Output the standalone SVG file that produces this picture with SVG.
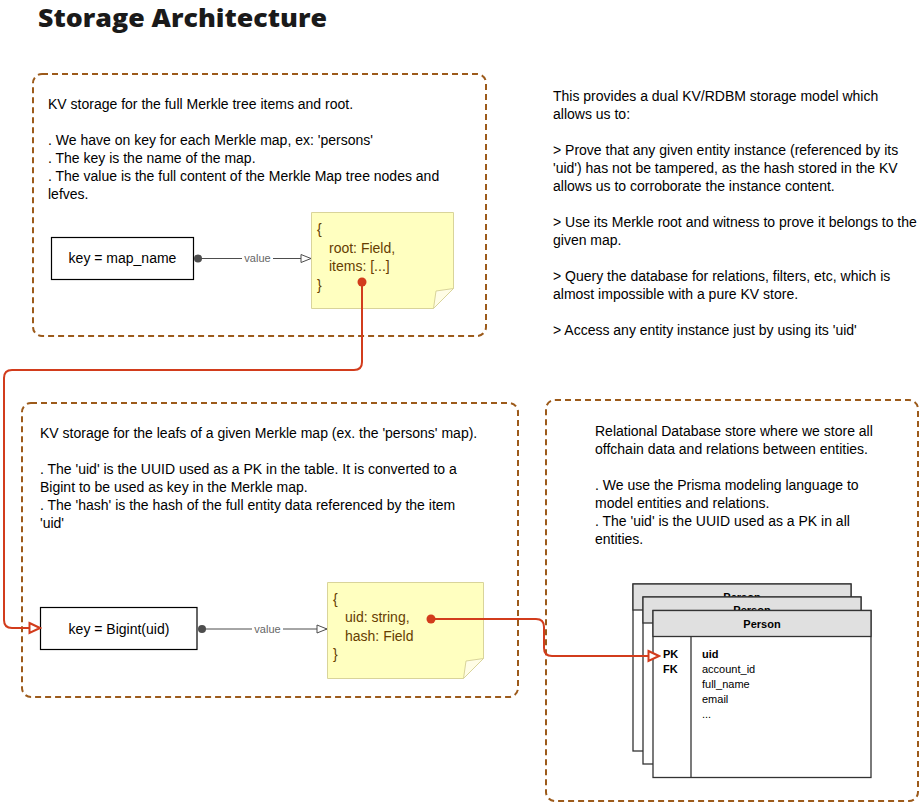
<svg xmlns="http://www.w3.org/2000/svg" width="919" height="803" viewBox="0 0 919 803">
<style>
.t{font-family:"Liberation Sans",Arial,sans-serif;font-size:14px;fill:#000}
.n{font-family:"Liberation Sans",Arial,sans-serif;font-size:14px;fill:#663d00}
.lbl{font-family:"Liberation Sans",Arial,sans-serif;font-size:11px;fill:#666}
.s{font-family:"Liberation Sans",Arial,sans-serif;font-size:11px;fill:#000}
.b{font-weight:bold}
.grp{fill:none;stroke:#9c5a1a;stroke-width:2;stroke-dasharray:6 4}
.key{fill:#fff;stroke:#000;stroke-width:1.2}
.note{fill:#ffffc0;stroke:#d9d49a;stroke-width:1}
.fold{fill:#fffde6;stroke:#d9d49a;stroke-width:1}
.tbl{fill:#fff;stroke:#333;stroke-width:1.3}
.hdr{fill:#e0e0e0;stroke:#333;stroke-width:1.3}
.gl{fill:none;stroke:#4d4d4d;stroke-width:1}
.rl{fill:none;stroke:#d23c1c;stroke-width:2}
</style>
<defs>
<marker id="ga" markerUnits="userSpaceOnUse" markerWidth="12" markerHeight="10" refX="11" refY="5" orient="auto">
<path d="M1,1 L11,5 L1,9 Z" fill="#fff" stroke="#4d4d4d" stroke-width="1"/>
</marker>
<marker id="ra" markerUnits="userSpaceOnUse" markerWidth="14" markerHeight="14" refX="12" refY="7" orient="auto">
<path d="M1.5,2 L12,7 L1.5,12 Z" fill="#fff" stroke="#d23c1c" stroke-width="2"/>
</marker>
</defs>
<rect width="919" height="803" fill="#fff"/>
<text x="38" y="27" font-family="'Open Sans',sans-serif" font-weight="800" font-size="24" fill="#1a1a1a" textLength="289" lengthAdjust="spacingAndGlyphs">Storage Architecture</text>

<g id="group-merkle">
<rect class="grp" x="33" y="74" width="453" height="262" rx="9"/>
<text class="t" x="48" y="109">KV storage for the full Merkle tree items and root.</text>
<text class="t" x="48" y="145">. We have on key for each Merkle map, ex: 'persons'</text>
<text class="t" x="48" y="163">. The key is the name of the map.</text>
<text class="t" x="48" y="181">. The value is the full content of the Merkle Map tree nodes and</text>
<text class="t" x="48" y="199">lefves.</text>
</g>

<g id="key-map-name">
<rect class="key" x="51.5" y="237.5" width="142" height="42"/>
<text class="t" x="122.5" y="263" text-anchor="middle">key = map_name</text>
</g>

<g id="note-merkle">
<path class="note" d="M311.5,212.5 H453.5 V288.5 L433.5,308.5 H311.5 Z"/>
<path class="fold" d="M453.5,288.5 L433.5,308.5 L436,291 Z"/>
<text class="n" x="317" y="234">{</text>
<text class="n" x="329" y="252.5">root: Field,</text>
<text class="n" x="329" y="271">items: [...]</text>
<text class="n" x="317" y="289.5">}</text>
</g>

<g id="group-leafs">
<rect class="grp" x="22" y="403" width="496" height="294" rx="9"/>
<text class="t" x="40" y="438">KV storage for the leafs of a given Merkle map (ex. the 'persons' map).</text>
<text class="t" x="40" y="474">. The 'uid' is the UUID used as a PK in the table. It is converted to a</text>
<text class="t" x="40" y="492">Bigint to be used as key in the Merkle map.</text>
<text class="t" x="40" y="510">. The 'hash' is the hash of the full entity data referenced by the item</text>
<text class="t" x="40" y="528">'uid'</text>
</g>

<g id="key-bigint">
<rect class="key" x="40.5" y="607.5" width="156.5" height="42"/>
<text class="t" x="119" y="633.5" text-anchor="middle">key = Bigint(uid)</text>
</g>

<g id="note-leaf">
<path class="note" d="M327.5,582.5 H483.5 V658.5 L463.5,678.5 H327.5 Z"/>
<path class="fold" d="M483.5,658.5 L463.5,678.5 L466,661 Z"/>
<text class="n" x="333" y="604">{</text>
<text class="n" x="345" y="622">uid: string,</text>
<text class="n" x="345" y="640.5">hash: Field</text>
<text class="n" x="333" y="659">}</text>
</g>

<g id="group-rdbms">
<rect class="grp" x="546" y="400" width="372" height="401" rx="9"/>
<text class="t" x="595" y="436">Relational Database store where we store all</text>
<text class="t" x="595" y="454">offchain data and relations between entities.</text>
<text class="t" x="595" y="490">. We use the Prisma modeling language to</text>
<text class="t" x="595" y="508">model entities and relations.</text>
<text class="t" x="595" y="526">. The 'uid' is the UUID used as a PK in all</text>
<text class="t" x="595" y="544">entities.</text>
</g>

<g id="table-person-back">
<rect class="tbl" x="633" y="584" width="218" height="167"/>
<rect class="hdr" x="633" y="584" width="218" height="26"/>
<text class="s b" x="742" y="601" text-anchor="middle">Person</text>
</g>
<g id="table-person-middle">
<rect class="tbl" x="643" y="597" width="218" height="167"/>
<rect class="hdr" x="643" y="597" width="218" height="26"/>
<text class="s b" x="752" y="614" text-anchor="middle">Person</text>
</g>
<g id="table-person">
<rect class="tbl" x="653" y="610.5" width="218" height="167"/>
<rect class="hdr" x="653" y="610.5" width="218" height="26"/>
<line x1="691" y1="636.5" x2="691" y2="777.5" stroke="#333" stroke-width="1.3"/>
<text class="s b" x="762" y="627.5" text-anchor="middle">Person</text>
<text class="s b" x="663" y="658">PK</text>
<text class="s b" x="663" y="673">FK</text>
<text class="s b" x="702" y="658">uid</text>
<text class="s" x="702" y="673">account_id</text>
<text class="s" x="702" y="688">full_name</text>
<text class="s" x="702" y="703">email</text>
<text class="s" x="702" y="718">...</text>
</g>

<g id="summary">
<text class="t" x="553" y="101">This provides a dual KV/RDBM storage model which</text>
<text class="t" x="553" y="119">allows us to:</text>
<text class="t" x="553" y="155">&gt; Prove that any given entity instance (referenced by its</text>
<text class="t" x="553" y="173">'uid') has not be tampered, as the hash stored in the KV</text>
<text class="t" x="553" y="191">allows us to corroborate the instance content.</text>
<text class="t" x="553" y="227">&gt; Use its Merkle root and witness to prove it belongs to the</text>
<text class="t" x="553" y="245">given map.</text>
<text class="t" x="553" y="281">&gt; Query the database for relations, filters, etc, which is</text>
<text class="t" x="553" y="299">almost impossible with a pure KV store.</text>
<text class="t" x="553" y="335">&gt; Access any entity instance just by using its 'uid'</text>
</g>

<g id="connectors">
<path class="gl" d="M198,258.5 H311" marker-end="url(#ga)"/>
<circle cx="198" cy="258.5" r="4" fill="#4d4d4d"/>
<rect x="242" y="251" width="31" height="14" fill="#fff"/>
<text class="lbl" x="257.5" y="262" text-anchor="middle">value</text>

<path class="gl" d="M202,629 H327" marker-end="url(#ga)"/>
<circle cx="202" cy="629" r="4" fill="#4d4d4d"/>
<rect x="252" y="621.5" width="31" height="14" fill="#fff"/>
<text class="lbl" x="267.5" y="632.5" text-anchor="middle">value</text>

<path class="rl" d="M362,282 V362 Q362,370 354,370 H12 Q4,370 4,378 V620 Q4,628 12,628 H40" marker-end="url(#ra)"/>
<circle cx="362" cy="282" r="4.5" fill="#d23c1c"/>
<path class="rl" d="M431,619 H536 Q544,619 544,627 V648 Q544,656 552,656 H659" marker-end="url(#ra)"/>
<circle cx="431" cy="619" r="4.5" fill="#d23c1c"/>
</g>
</svg>
